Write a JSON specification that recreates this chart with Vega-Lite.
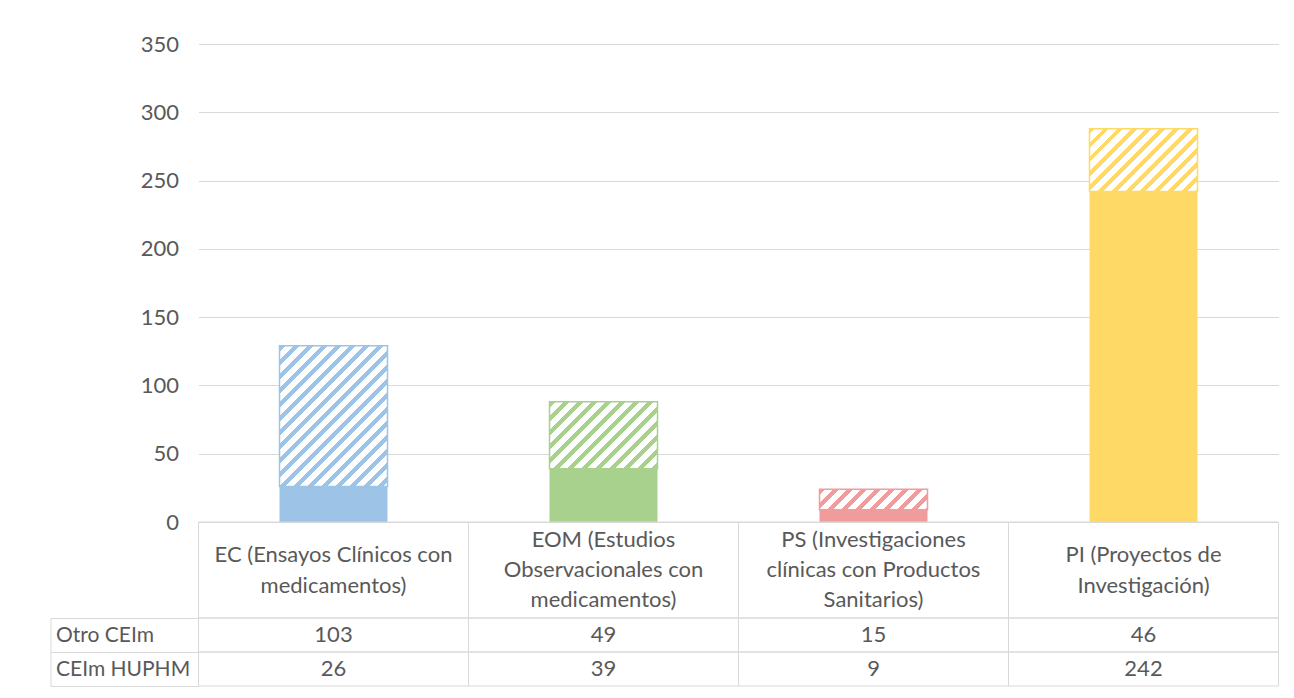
{
  "$schema": "https://vega.github.io/schema/vega-lite/v6.json",
  "background": "white",
  "padding": {"left": 49.5, "top": 33, "right": 14, "bottom": 10},
  "spacing": 0,
  "bounds": "flush",
  "data": {"values": [
    {"codigo": "EC", "categoria": "EC (Ensayos Clínicos con\nmedicamentos)", "serie": "Otro CEIm", "valor": 103},
    {"codigo": "EC", "categoria": "EC (Ensayos Clínicos con\nmedicamentos)", "serie": "CEIm HUPHM", "valor": 26},
    {"codigo": "EOM", "categoria": "EOM (Estudios\nObservacionales con\nmedicamentos)", "serie": "Otro CEIm", "valor": 49},
    {"codigo": "EOM", "categoria": "EOM (Estudios\nObservacionales con\nmedicamentos)", "serie": "CEIm HUPHM", "valor": 39},
    {"codigo": "PS", "categoria": "PS (Investigaciones\nclínicas con Productos\nSanitarios)", "serie": "Otro CEIm", "valor": 15},
    {"codigo": "PS", "categoria": "PS (Investigaciones\nclínicas con Productos\nSanitarios)", "serie": "CEIm HUPHM", "valor": 9},
    {"codigo": "PI", "categoria": "PI (Proyectos de\nInvestigación)", "serie": "Otro CEIm", "valor": 46},
    {"codigo": "PI", "categoria": "PI (Proyectos de\nInvestigación)", "serie": "CEIm HUPHM", "valor": 242}
  ]},
  "resolve": {"scale": {"x": "independent", "y": "independent"}},
  "vconcat": [
    {
      "width": 1080,
      "height": 478,
      "transform": [
        {"stack": "valor", "groupby": ["codigo"], "sort": [{"field": "serie", "order": "ascending"}], "as": ["v0", "v1"]}
      ],
      "encoding": {
        "x": {"field": "codigo", "type": "nominal", "sort": ["EC", "EOM", "PS", "PI"], "scale": {"paddingInner": 0.6, "paddingOuter": 0.3}, "axis": null},
        "y": {"field": "v1", "type": "quantitative", "scale": {"domain": [0, 350], "nice": false},
          "axis": {"title": null, "values": [0, 50, 100, 150, 200, 250, 300, 350], "domain": false, "ticks": false, "tickSize": 0, "labelPadding": 20, "grid": true, "gridColor": "#d9d9d9", "gridWidth": 1, "labelFontSize": 22, "labelColor": "#595959", "labelFont": "Lato"}},
        "y2": {"field": "v0"}
      },
      "layer": [
        {
          "transform": [{"filter": {"field": "serie", "equal": "CEIm HUPHM"}}],
          "mark": {"type": "bar"},
          "encoding": {"color": {"field": "codigo", "type": "nominal", "scale": {"domain": ["EC", "EOM", "PS", "PI"], "range": ["#9dc3e6", "#a9d18e", "#f09c9c", "#ffd966"]}, "legend": null}}
        },
        {
          "transform": [{"filter": "datum.serie == 'Otro CEIm' && datum.codigo == 'EC'"}],
          "mark": {"type": "bar", "stroke": "#9dc3e6", "strokeWidth": 1.5,
            "fill": {"gradient": "linear", "x1": 0, "y1": 0, "x2": 0.8539, "y2": 1.1122, "stops": [
              {"offset": 0, "color": "#9dc3e6"}, {"offset": 0.023, "color": "#9dc3e6"}, {"offset": 0.023, "color": "#ffffff"}, {"offset": 0.0563, "color": "#ffffff"},
              {"offset": 0.0563, "color": "#9dc3e6"}, {"offset": 0.0793, "color": "#9dc3e6"}, {"offset": 0.0793, "color": "#ffffff"}, {"offset": 0.1126, "color": "#ffffff"},
              {"offset": 0.1126, "color": "#9dc3e6"}, {"offset": 0.1356, "color": "#9dc3e6"}, {"offset": 0.1356, "color": "#ffffff"}, {"offset": 0.1689, "color": "#ffffff"},
              {"offset": 0.1689, "color": "#9dc3e6"}, {"offset": 0.1919, "color": "#9dc3e6"}, {"offset": 0.1919, "color": "#ffffff"}, {"offset": 0.2252, "color": "#ffffff"},
              {"offset": 0.2252, "color": "#9dc3e6"}, {"offset": 0.2482, "color": "#9dc3e6"}, {"offset": 0.2482, "color": "#ffffff"}, {"offset": 0.2815, "color": "#ffffff"},
              {"offset": 0.2815, "color": "#9dc3e6"}, {"offset": 0.3045, "color": "#9dc3e6"}, {"offset": 0.3045, "color": "#ffffff"}, {"offset": 0.3378, "color": "#ffffff"},
              {"offset": 0.3378, "color": "#9dc3e6"}, {"offset": 0.3608, "color": "#9dc3e6"}, {"offset": 0.3608, "color": "#ffffff"}, {"offset": 0.3941, "color": "#ffffff"},
              {"offset": 0.3941, "color": "#9dc3e6"}, {"offset": 0.4171, "color": "#9dc3e6"}, {"offset": 0.4171, "color": "#ffffff"}, {"offset": 0.4504, "color": "#ffffff"},
              {"offset": 0.4504, "color": "#9dc3e6"}, {"offset": 0.4734, "color": "#9dc3e6"}, {"offset": 0.4734, "color": "#ffffff"}, {"offset": 0.5067, "color": "#ffffff"},
              {"offset": 0.5067, "color": "#9dc3e6"}, {"offset": 0.5297, "color": "#9dc3e6"}, {"offset": 0.5297, "color": "#ffffff"}, {"offset": 0.563, "color": "#ffffff"},
              {"offset": 0.563, "color": "#9dc3e6"}, {"offset": 0.586, "color": "#9dc3e6"}, {"offset": 0.586, "color": "#ffffff"}, {"offset": 0.6193, "color": "#ffffff"},
              {"offset": 0.6193, "color": "#9dc3e6"}, {"offset": 0.6423, "color": "#9dc3e6"}, {"offset": 0.6423, "color": "#ffffff"}, {"offset": 0.6756, "color": "#ffffff"},
              {"offset": 0.6756, "color": "#9dc3e6"}, {"offset": 0.6986, "color": "#9dc3e6"}, {"offset": 0.6986, "color": "#ffffff"}, {"offset": 0.7319, "color": "#ffffff"},
              {"offset": 0.7319, "color": "#9dc3e6"}, {"offset": 0.7549, "color": "#9dc3e6"}, {"offset": 0.7549, "color": "#ffffff"}, {"offset": 0.7882, "color": "#ffffff"},
              {"offset": 0.7882, "color": "#9dc3e6"}, {"offset": 0.8112, "color": "#9dc3e6"}, {"offset": 0.8112, "color": "#ffffff"}, {"offset": 0.8445, "color": "#ffffff"},
              {"offset": 0.8445, "color": "#9dc3e6"}, {"offset": 0.8675, "color": "#9dc3e6"}, {"offset": 0.8675, "color": "#ffffff"}, {"offset": 0.9008, "color": "#ffffff"},
              {"offset": 0.9008, "color": "#9dc3e6"}, {"offset": 0.9238, "color": "#9dc3e6"}, {"offset": 0.9238, "color": "#ffffff"}, {"offset": 0.9571, "color": "#ffffff"},
              {"offset": 0.9571, "color": "#9dc3e6"}, {"offset": 0.9801, "color": "#9dc3e6"}, {"offset": 0.9801, "color": "#ffffff"}, {"offset": 1, "color": "#ffffff"}
            ]}}
        },
        {
          "transform": [{"filter": "datum.serie == 'Otro CEIm' && datum.codigo == 'EOM'"}],
          "mark": {"type": "bar", "stroke": "#a9d18e", "strokeWidth": 1.5,
            "fill": {"gradient": "linear", "x1": 0, "y1": 0, "x2": 1.1703, "y2": 0.7252, "stops": [
              {"offset": 0, "color": "#a9d18e"}, {"offset": 0.033, "color": "#a9d18e"}, {"offset": 0.033, "color": "#ffffff"}, {"offset": 0.08, "color": "#ffffff"},
              {"offset": 0.08, "color": "#a9d18e"}, {"offset": 0.113, "color": "#a9d18e"}, {"offset": 0.113, "color": "#ffffff"}, {"offset": 0.16, "color": "#ffffff"},
              {"offset": 0.16, "color": "#a9d18e"}, {"offset": 0.193, "color": "#a9d18e"}, {"offset": 0.193, "color": "#ffffff"}, {"offset": 0.24, "color": "#ffffff"},
              {"offset": 0.24, "color": "#a9d18e"}, {"offset": 0.273, "color": "#a9d18e"}, {"offset": 0.273, "color": "#ffffff"}, {"offset": 0.32, "color": "#ffffff"},
              {"offset": 0.32, "color": "#a9d18e"}, {"offset": 0.353, "color": "#a9d18e"}, {"offset": 0.353, "color": "#ffffff"}, {"offset": 0.4, "color": "#ffffff"},
              {"offset": 0.4, "color": "#a9d18e"}, {"offset": 0.433, "color": "#a9d18e"}, {"offset": 0.433, "color": "#ffffff"}, {"offset": 0.48, "color": "#ffffff"},
              {"offset": 0.48, "color": "#a9d18e"}, {"offset": 0.513, "color": "#a9d18e"}, {"offset": 0.513, "color": "#ffffff"}, {"offset": 0.56, "color": "#ffffff"},
              {"offset": 0.56, "color": "#a9d18e"}, {"offset": 0.593, "color": "#a9d18e"}, {"offset": 0.593, "color": "#ffffff"}, {"offset": 0.64, "color": "#ffffff"},
              {"offset": 0.64, "color": "#a9d18e"}, {"offset": 0.673, "color": "#a9d18e"}, {"offset": 0.673, "color": "#ffffff"}, {"offset": 0.72, "color": "#ffffff"},
              {"offset": 0.72, "color": "#a9d18e"}, {"offset": 0.753, "color": "#a9d18e"}, {"offset": 0.753, "color": "#ffffff"}, {"offset": 0.8, "color": "#ffffff"},
              {"offset": 0.8, "color": "#a9d18e"}, {"offset": 0.833, "color": "#a9d18e"}, {"offset": 0.833, "color": "#ffffff"}, {"offset": 0.88, "color": "#ffffff"},
              {"offset": 0.88, "color": "#a9d18e"}, {"offset": 0.913, "color": "#a9d18e"}, {"offset": 0.913, "color": "#ffffff"}, {"offset": 0.96, "color": "#ffffff"},
              {"offset": 0.96, "color": "#a9d18e"}, {"offset": 0.993, "color": "#a9d18e"}, {"offset": 0.993, "color": "#ffffff"}, {"offset": 1, "color": "#ffffff"}
            ]}}
        },
        {
          "transform": [{"filter": "datum.serie == 'Otro CEIm' && datum.codigo == 'PS'"}],
          "mark": {"type": "bar", "stroke": "#f09c9c", "strokeWidth": 1.5,
            "fill": {"gradient": "linear", "x1": 0, "y1": 0, "x2": 1.1484, "y2": 0.2178, "stops": [
              {"offset": 0, "color": "#f09c9c"}, {"offset": 0.045, "color": "#f09c9c"}, {"offset": 0.045, "color": "#ffffff"}, {"offset": 0.109, "color": "#ffffff"},
              {"offset": 0.109, "color": "#f09c9c"}, {"offset": 0.154, "color": "#f09c9c"}, {"offset": 0.154, "color": "#ffffff"}, {"offset": 0.218, "color": "#ffffff"},
              {"offset": 0.218, "color": "#f09c9c"}, {"offset": 0.263, "color": "#f09c9c"}, {"offset": 0.263, "color": "#ffffff"}, {"offset": 0.327, "color": "#ffffff"},
              {"offset": 0.327, "color": "#f09c9c"}, {"offset": 0.372, "color": "#f09c9c"}, {"offset": 0.372, "color": "#ffffff"}, {"offset": 0.436, "color": "#ffffff"},
              {"offset": 0.436, "color": "#f09c9c"}, {"offset": 0.481, "color": "#f09c9c"}, {"offset": 0.481, "color": "#ffffff"}, {"offset": 0.545, "color": "#ffffff"},
              {"offset": 0.545, "color": "#f09c9c"}, {"offset": 0.59, "color": "#f09c9c"}, {"offset": 0.59, "color": "#ffffff"}, {"offset": 0.654, "color": "#ffffff"},
              {"offset": 0.654, "color": "#f09c9c"}, {"offset": 0.699, "color": "#f09c9c"}, {"offset": 0.699, "color": "#ffffff"}, {"offset": 0.763, "color": "#ffffff"},
              {"offset": 0.763, "color": "#f09c9c"}, {"offset": 0.808, "color": "#f09c9c"}, {"offset": 0.808, "color": "#ffffff"}, {"offset": 0.872, "color": "#ffffff"},
              {"offset": 0.872, "color": "#f09c9c"}, {"offset": 0.917, "color": "#f09c9c"}, {"offset": 0.917, "color": "#ffffff"}, {"offset": 0.981, "color": "#ffffff"},
              {"offset": 0.981, "color": "#f09c9c"}, {"offset": 1, "color": "#f09c9c"}
            ]}}
        },
        {
          "transform": [{"filter": "datum.serie == 'Otro CEIm' && datum.codigo == 'PI'"}],
          "mark": {"type": "bar", "stroke": "#ffd966", "strokeWidth": 1.5,
            "fill": {"gradient": "linear", "x1": 0, "y1": 0, "x2": 1.1818, "y2": 0.6875, "stops": [
              {"offset": 0, "color": "#ffd966"}, {"offset": 0.034, "color": "#ffd966"}, {"offset": 0.034, "color": "#ffffff"}, {"offset": 0.082, "color": "#ffffff"},
              {"offset": 0.082, "color": "#ffd966"}, {"offset": 0.116, "color": "#ffd966"}, {"offset": 0.116, "color": "#ffffff"}, {"offset": 0.164, "color": "#ffffff"},
              {"offset": 0.164, "color": "#ffd966"}, {"offset": 0.198, "color": "#ffd966"}, {"offset": 0.198, "color": "#ffffff"}, {"offset": 0.246, "color": "#ffffff"},
              {"offset": 0.246, "color": "#ffd966"}, {"offset": 0.28, "color": "#ffd966"}, {"offset": 0.28, "color": "#ffffff"}, {"offset": 0.328, "color": "#ffffff"},
              {"offset": 0.328, "color": "#ffd966"}, {"offset": 0.362, "color": "#ffd966"}, {"offset": 0.362, "color": "#ffffff"}, {"offset": 0.41, "color": "#ffffff"},
              {"offset": 0.41, "color": "#ffd966"}, {"offset": 0.444, "color": "#ffd966"}, {"offset": 0.444, "color": "#ffffff"}, {"offset": 0.492, "color": "#ffffff"},
              {"offset": 0.492, "color": "#ffd966"}, {"offset": 0.526, "color": "#ffd966"}, {"offset": 0.526, "color": "#ffffff"}, {"offset": 0.574, "color": "#ffffff"},
              {"offset": 0.574, "color": "#ffd966"}, {"offset": 0.608, "color": "#ffd966"}, {"offset": 0.608, "color": "#ffffff"}, {"offset": 0.656, "color": "#ffffff"},
              {"offset": 0.656, "color": "#ffd966"}, {"offset": 0.69, "color": "#ffd966"}, {"offset": 0.69, "color": "#ffffff"}, {"offset": 0.738, "color": "#ffffff"},
              {"offset": 0.738, "color": "#ffd966"}, {"offset": 0.772, "color": "#ffd966"}, {"offset": 0.772, "color": "#ffffff"}, {"offset": 0.82, "color": "#ffffff"},
              {"offset": 0.82, "color": "#ffd966"}, {"offset": 0.854, "color": "#ffd966"}, {"offset": 0.854, "color": "#ffffff"}, {"offset": 0.902, "color": "#ffffff"},
              {"offset": 0.902, "color": "#ffd966"}, {"offset": 0.936, "color": "#ffd966"}, {"offset": 0.936, "color": "#ffffff"}, {"offset": 0.984, "color": "#ffffff"},
              {"offset": 0.984, "color": "#ffd966"}, {"offset": 1, "color": "#ffd966"}
            ]}}
        }
      ]
    },
    {
      "width": 1080,
      "height": 96,
      "transform": [{"filter": {"field": "serie", "equal": "Otro CEIm"}}],
      "encoding": {
        "x": {"field": "categoria", "type": "nominal", "sort": null, "scale": {"paddingInner": 0, "paddingOuter": 0}, "axis": null}
      },
      "layer": [
        {"mark": {"type": "rect", "fillOpacity": 0, "stroke": "#d9d9d9", "strokeWidth": 1}},
        {"transform": [{"filter": "datum.codigo == 'EC' || datum.codigo == 'PI'"}],
         "mark": {"type": "text", "lineBreak": "\n", "lineHeight": 31, "fontSize": 22, "font": "Lato", "color": "#595959", "baseline": "middle", "dy": -15.5},
         "encoding": {"text": {"field": "categoria"}}},
        {"transform": [{"filter": "datum.codigo == 'EOM' || datum.codigo == 'PS'"}],
         "mark": {"type": "text", "lineBreak": "\n", "lineHeight": 30, "fontSize": 22, "font": "Lato", "color": "#595959", "baseline": "middle", "dy": -30},
         "encoding": {"text": {"field": "categoria"}}}
      ]
    },
    {
      "width": 1080,
      "height": 68,
      "encoding": {
        "x": {"field": "categoria", "type": "nominal", "sort": null, "scale": {"paddingInner": 0, "paddingOuter": 0}, "axis": null}
      },
      "layer": [
        {"mark": {"type": "rect", "fillOpacity": 0, "stroke": "#d9d9d9", "strokeWidth": 1},
         "encoding": {
           "y": {"field": "serie", "type": "nominal", "sort": ["Otro CEIm", "CEIm HUPHM"], "scale": {"paddingInner": 0, "paddingOuter": 0},
             "axis": {"title": null, "orient": "left", "domain": false, "grid": false, "ticks": true, "tickBand": "extent", "tickSize": 148, "tickColor": "#d9d9d9", "tickWidth": 1, "labelAlign": "left", "labelPadding": -5, "labelFontSize": 21, "labelFont": "Lato", "labelColor": "#595959"}}
         }},
        {"mark": {"type": "text", "fontSize": 22, "font": "Lato", "color": "#595959"},
         "encoding": {
           "y": {"field": "serie", "type": "nominal", "sort": ["Otro CEIm", "CEIm HUPHM"], "scale": {"paddingInner": 0, "paddingOuter": 0},
             "axis": {"title": null, "orient": "left", "offset": 148, "domain": true, "domainColor": "#d9d9d9", "domainWidth": 1, "labels": false, "ticks": false, "grid": false}},
           "text": {"field": "valor"}
         }}
      ],
      "resolve": {"scale": {"y": "independent"}}
    }
  ],
  "config": {
    "view": {"stroke": null},
    "font": "Lato",
    "text": {"font": "Lato"}
  }
}
